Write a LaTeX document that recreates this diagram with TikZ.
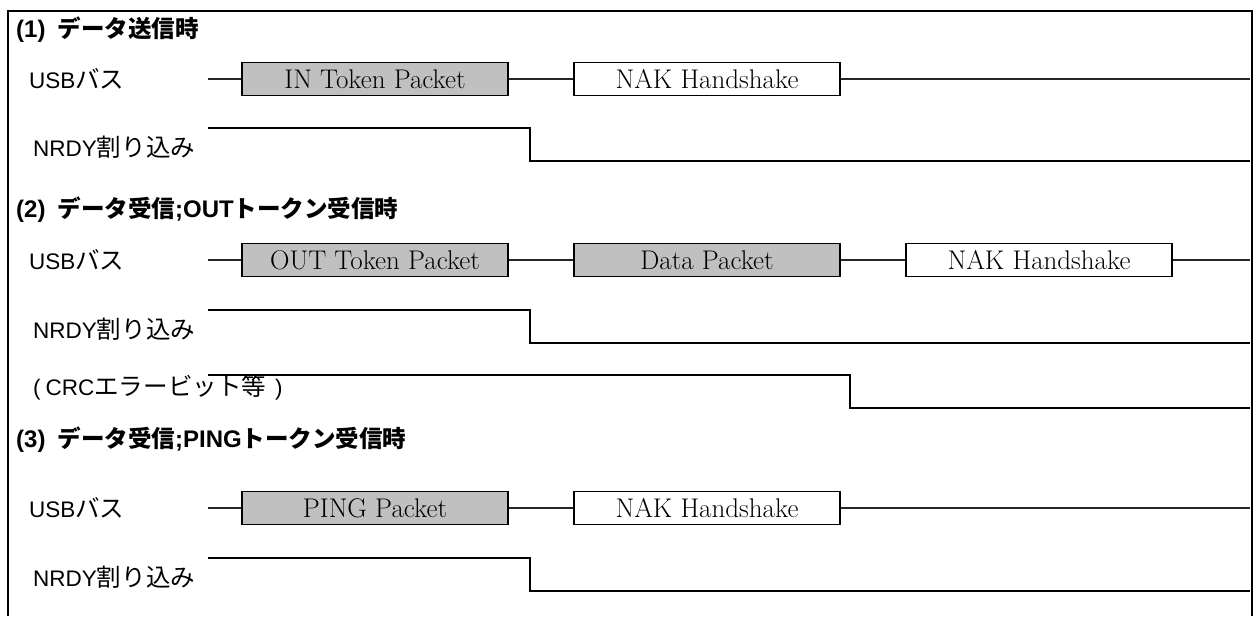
\documentclass[tikz,border=0pt]{standalone}
\usepackage{fontspec}
\usepackage{tikz}
\newfontfamily\jp[Scale=1.09]{Noto Sans CJK JP}
\newfontfamily\jphead[Scale=0.98]{Noto Sans CJK JP}
\newfontfamily\latsans{Liberation Sans}
\usetikzlibrary{positioning}
\definecolor{packetgray}{RGB}{192,192,192}
\tikzstyle{packet} = [draw, line width=1.8pt, minimum width=266pt, minimum height=33pt, inner sep=0pt, font=\fontsize{27}{32}\selectfont]
\tikzstyle{sent} = [packet, fill=packetgray]
\tikzstyle{bus} = [line width=1.5pt, black!85]
\tikzstyle{irq} = [line width=2pt]
\tikzstyle{sig} = [anchor=west, inner sep=0pt, font=\fontsize{22.5}{27}\selectfont]
\tikzstyle{head} = [anchor=west, inner sep=0pt, font=\fontsize{24}{28}\selectfont\bfseries]

\begin{document}
\begin{tikzpicture}[x=1pt, y=-1pt]
    \useasboundingbox (0,0) rectangle (1260,616);
    % Frame
    \draw[line width=2pt] (8,616) -- (8,11) -- (1252,11) -- (1252,616);

    % Nodes
    \node[head] (t1) at (16,30) {\latsans (1)\hspace{12pt}\jphead データ送信時};
    \node[head] (t2) at (16,210) {\latsans (2)\hspace{12pt}\jphead データ受信\latsans ;OUT\jphead トークン受信時};
    \node[head] (t3) at (16,440) {\latsans (3)\hspace{12pt}\jphead データ受信\latsans ;PING\jphead トークン受信時};

    \node[sig] (usb1) at (29,79) {\latsans USB\jp バス};
    \node[sig] (usb2) at (29,260) {\latsans USB\jp バス};
    \node[sig] (usb3) at (29,508) {\latsans USB\jp バス};
    \node[sig] (nrdy1) at (33,147) {\latsans NRDY\jp 割り込み};
    \node[sig] (nrdy2) at (33,329) {\latsans NRDY\jp 割り込み};
    \node[sig] (nrdy3) at (33,577) {\latsans NRDY\jp 割り込み};
    \node[sig] (crc) at (33,387) {\latsans (\hspace{5pt}CRC\jp エラービット等\latsans\hspace{9pt})};

    \node[sent] (in1) at (375,79) {IN Token Packet};
    \node[packet] (nak1) at (707,79) {NAK Handshake};
    \node[sent] (out2) at (375,260) {OUT Token Packet};
    \node[sent] (data2) at (707,260) {Data Packet};
    \node[packet] (nak2) at (1039,260) {NAK Handshake};
    \node[sent] (ping3) at (375,508) {PING Packet};
    \node[packet] (nak3) at (707,508) {NAK Handshake};

    \coordinate (s1) at (208,79);  \coordinate (e1) at (1250,79);
    \coordinate (s2) at (208,260); \coordinate (e2) at (1250,260);
    \coordinate (s3) at (208,508); \coordinate (e3) at (1250,508);

    % Edges
    \draw[bus] (s1) -- (in1);
    \draw[bus] (in1) -- (nak1);
    \draw[bus] (nak1) -- (e1);
    \draw[bus] (s2) -- (out2);
    \draw[bus] (out2) -- (data2);
    \draw[bus] (data2) -- (nak2);
    \draw[bus] (nak2) -- (e2);
    \draw[bus] (s3) -- (ping3);
    \draw[bus] (ping3) -- (nak3);
    \draw[bus] (nak3) -- (e3);

    % Interrupt levels
    \draw[irq] (208,128) -| (530,161) -- (1250,161);
    \draw[irq] (208,310) -| (530,343) -- (1250,343);
    \draw[irq] (208,375) -| (850,408) -- (1250,408);
    \draw[irq] (208,558) -| (530,591) -- (1250,591);
\end{tikzpicture}
\end{document}
